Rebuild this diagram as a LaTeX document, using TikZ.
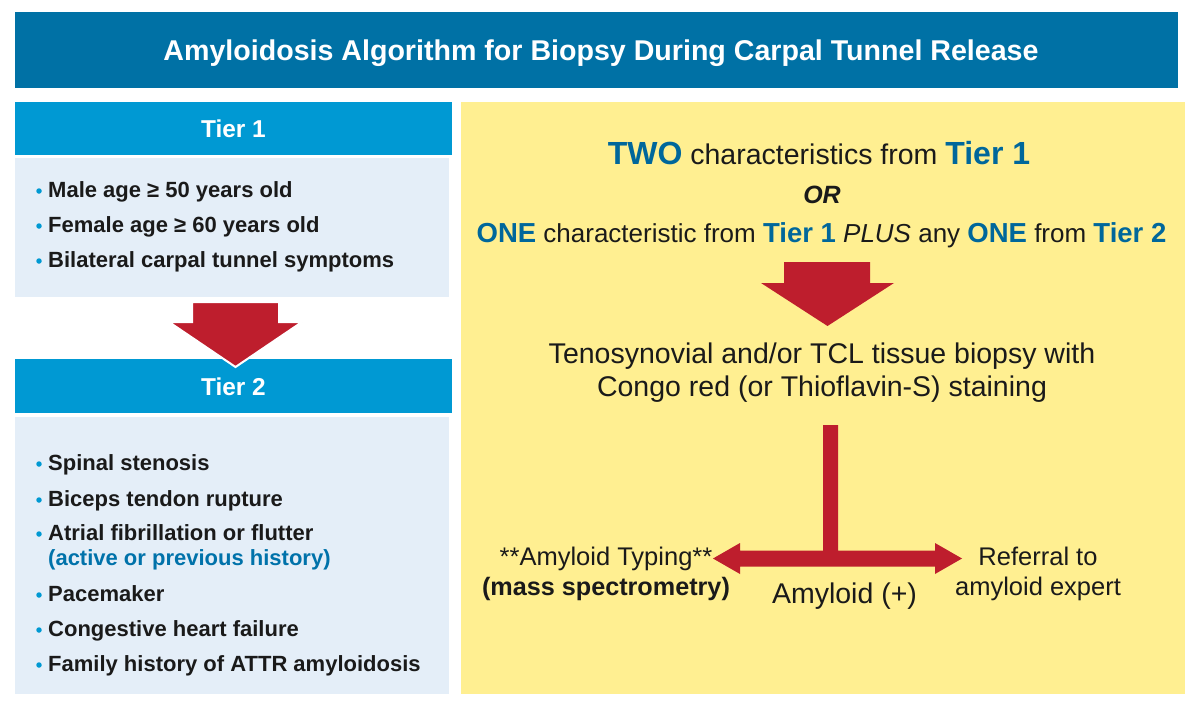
\documentclass[tikz,border=0pt]{standalone}
\usepackage{fontspec}
\setmainfont{Liberation Sans}
\definecolor{titleblue}{RGB}{0,113,165}
\definecolor{tierblue}{RGB}{0,153,211}
\definecolor{bodyblue}{RGB}{228,238,248}
\definecolor{paneyellow}{RGB}{255,239,145}
\definecolor{darkblue}{RGB}{0,103,155}
\definecolor{histblue}{RGB}{0,114,170}
\definecolor{arrowred}{RGB}{190,30,45}
\definecolor{txt}{RGB}{26,26,26}
\newcommand{\fsz}[1]{\fontsize{#1}{#1}\selectfont}
\newcommand{\bl}[1]{{\fsz{27.5}\bfseries\color{darkblue}#1}}
\newcommand{\bla}[1]{{\fsz{32}\bfseries\color{darkblue}#1}}
\tikzset{
  panel/.style={draw=none, inner sep=0pt, outer sep=0pt, anchor=north west},
  dotmark/.style={circle, fill=tierblue, inner sep=0pt, minimum size=5.5pt},
  item/.style={anchor=base west, inner sep=0pt, text=txt, font=\fsz{22}\bfseries},
  hdr/.style={anchor=base, inner sep=0pt, text=white, font=\fsz{24.4}\bfseries},
  ytext/.style={anchor=base, inner sep=0pt, text=txt},
  blockarrow/.style={fill=arrowred}
}
\begin{document}
\begin{tikzpicture}[x=1pt,y=-1pt]
\useasboundingbox (0,0) rectangle (1200,709);
\fill[white] (0,0) rectangle (1200,709);

% title
\node[panel, fill=titleblue, minimum width=1163pt, minimum height=76pt] (titlebar) at (15,12) {};
\node[anchor=base, inner sep=0pt, text=white, font=\fsz{28.6}\bfseries] (titletext) at (601,60) {Amyloidosis Algorithm for Biopsy During Carpal Tunnel Release};

% tier 1
\node[panel, fill=tierblue, minimum width=437pt, minimum height=53pt] (t1head) at (15,102) {};
\node[hdr] (t1label) at (233.5,137) {Tier 1};
\node[panel, fill=bodyblue, minimum width=434pt, minimum height=139pt] (t1body) at (15,158) {};
\node[dotmark] (d11) at (39,191) {};
\node[item] (i11) at (48,197) {Male age ≥ 50 years old};
\node[dotmark] (d12) at (39,226) {};
\node[item] (i12) at (48,232) {Female age ≥ 60 years old};
\node[dotmark] (d13) at (39,261) {};
\node[item] (i13) at (48,267) {Bilateral carpal tunnel symptoms};

% tier 2
\node[panel, fill=tierblue, minimum width=437pt, minimum height=54pt] (t2head) at (15,359) {};
\node[hdr] (t2label) at (233.5,395) {Tier 2};
\node[panel, fill=bodyblue, minimum width=434pt, minimum height=277pt] (t2body) at (15,417) {};
\node[dotmark] (d21) at (39,464) {};
\node[item] (i21) at (48,470) {Spinal stenosis};
\node[dotmark] (d22) at (39,500) {};
\node[item] (i22) at (48,506) {Biceps tendon rupture};
\node[dotmark] (d23) at (39,534) {};
\node[item] (i23) at (48,540) {Atrial fibrillation or flutter};
\node[item, text=histblue] (i23b) at (48,565) {(active or previous history)};
\node[dotmark] (d24) at (39,595) {};
\node[item] (i24) at (48,601) {Pacemaker};
\node[dotmark] (d25) at (39,630) {};
\node[item] (i25) at (48,636) {Congestive heart failure};
\node[dotmark] (d26) at (39,665) {};
\node[item] (i26) at (48,671) {Family history of ATTR amyloidosis};

% arrow tier1 -> tier2
\filldraw[blockarrow, draw=white, line width=2pt, line join=miter]
  (192,302) -- (279,302) -- (279,322) -- (302,322) -- (235.5,367) -- (169,322) -- (192,322) -- cycle;

% yellow panel
\node[panel, fill=paneyellow, minimum width=724pt, minimum height=592pt] (pane) at (461,102) {};
\node[ytext, font=\fsz{28.5}] (crit1) at (819,164) {\bla{TWO} characteristics from \bla{Tier 1}};
\node[ytext, font=\fsz{25}\bfseries\itshape] (ortext) at (822,203) {OR};
\node[ytext, font=\fsz{26}] (crit2) at (821.5,242) {\bl{ONE} characteristic from \bl{Tier 1} \textit{PLUS} any \bl{ONE} from \bl{Tier 2}};

\fill[blockarrow] (784,262) -- (870,262) -- (870,283) -- (894,283) -- (827.5,326) -- (761,283) -- (784,283) -- cycle;

\node[ytext, font=\fsz{28.5}] (biop1) at (822,363) {Tenosynovial and/or TCL tissue biopsy with};
\node[ytext, font=\fsz{28.5}] (biop2) at (822,396) {Congo red (or Thioflavin-S) staining};

% T connector with double arrow
\fill[blockarrow] (823,425) -- (838,425) -- (838,550.5) -- (935,550.5) -- (935,543) -- (962,558.5) -- (935,574) -- (935,566.5)
  -- (740,566.5) -- (740,574) -- (713,558.5) -- (740,543) -- (740,550.5) -- (823,550.5) -- cycle;

\node[ytext, font=\fsz{25.5}] (typ1) at (606,565) {**Amyloid Typing**};
\node[ytext, font=\fsz{25.2}\bfseries] (typ2) at (606,595) {(mass spectrometry)};
\node[ytext, font=\fsz{28.5}] (amy) at (844.5,603) {Amyloid (+)};
\node[ytext, font=\fsz{25.5}] (ref1) at (1038,565) {Referral to};
\node[ytext, font=\fsz{25.5}] (ref2) at (1038,595) {amyloid expert};
\end{tikzpicture}
\end{document}
